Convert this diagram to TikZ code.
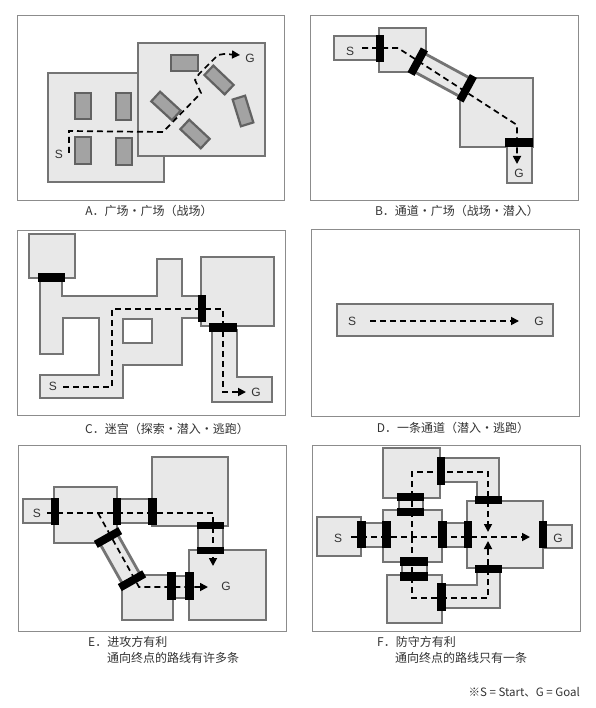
\documentclass[tikz,border=0pt]{standalone}
\usepackage{fontspec}
\setmainfont{Liberation Sans}
\newfontfamily\cjk{Noto Sans CJK SC}
\usetikzlibrary{arrows.meta}
\definecolor{framecol}{HTML}{8C8C8C}
\definecolor{roomfill}{HTML}{E8E8E8}
\definecolor{roomedge}{HTML}{747474}
\definecolor{obstfill}{HTML}{A3A3A3}
\definecolor{obstedge}{HTML}{626262}
\definecolor{txt}{HTML}{333333}
\begin{document}
\begin{tikzpicture}[x=1pt,y=-1pt,
  frame/.style={draw=framecol,line width=0.8pt},
  room/.style={fill=roomfill,draw=roomedge,line width=2.8pt},
  hole/.style={fill=white,draw=roomedge,line width=2.8pt},
  rroom/.style={room,inner sep=0pt,outer sep=0pt},
  door/.style={fill=black,draw=none},
  rdoor/.style={fill=black,draw=none,inner sep=0pt,outer sep=0pt,minimum width=8pt,minimum height=28pt},
  obst/.style={fill=obstfill,draw=obstedge,line width=2.2pt,inner sep=0pt,outer sep=0pt,minimum width=28pt,minimum height=13pt},
  walk/.style={draw=black,line width=1.7pt,dash pattern=on 6pt off 4pt},
  arr/.style={-{Triangle[length=8pt,width=8pt]}},
  lbl/.style={font=\fontsize{12}{14}\selectfont,text=txt,inner sep=0pt},
  capt/.style={font=\cjk\fontsize{12}{14}\selectfont,text=txt,inner sep=0pt}]
\useasboundingbox (0,0) rectangle (595,708);
\fill[white] (0,0) rectangle (595,708);

% ---------- frames ----------
\draw[frame] (17,15) rectangle (284,200);
\draw[frame] (310,15) rectangle (578,200);
\draw[frame] (17,230) rectangle (285,415);
\draw[frame] (311,229) rectangle (579,416);
\draw[frame] (18,445) rectangle (286,631);
\draw[frame] (312,445) rectangle (580,631);

% ---------- A ----------
\draw[room] (48,73) rectangle (164,182);
\draw[obst] (75,93) rectangle (91,119);
\draw[obst] (116,93) rectangle (131,120);
\draw[obst] (75,137) rectangle (91,164);
\draw[obst] (116,138) rectangle (132,165);
\draw[room] (138,43) rectangle (265,156);
\draw[obst] (171,55) rectangle (198,71);
\node[obst,rotate=-43.6] (a1) at (219,80) {};
\node[obst,rotate=-42.6] (a2) at (166,106) {};
\node[obst,rotate=-72.8] (a3) at (243,111) {};
\node[obst,rotate=-43] (a4) at (195,134) {};
\draw[walk,arr] (69,153) -- (69,131) -- (163,132) -- (201,93) -- (195,80) -- (199,74) -- (218,55) -- (224,54) -- (240,55);
\node[lbl] (sA) at (59,154) {S};
\node[lbl] (gA) at (250,58) {G};
\node[capt] (capA) at (149,211) {A．广场・广场（战场）};

% ---------- B ----------
\draw[room] (334,36) rectangle (381,60);
\draw[room] (379,28) rectangle (426,72);
\draw[room] (460,78) rectangle (533,147);
\draw[room] (507,140) rectangle (532,183);
\node[rroom,rotate=-28.5,minimum width=56pt,minimum height=21pt] (bcor) at (442.2,75) {};
\fill[door] (376,35) rectangle (384,62);
\node[rdoor,rotate=-28.5] (bd2) at (417.7,61.7) {};
\node[rdoor,rotate=-28.5] (bd3) at (466.7,88.3) {};
\fill[door] (505,138) rectangle (533,147);
\draw[walk,arr] (362,48) -- (398,48) -- (517,125) -- (517,164);
\node[lbl] (sB) at (350,51) {S};
\node[lbl] (gB) at (519,173) {G};
\node[capt] (capB) at (457,211) {B．通道・广场（战场・潜入）};

% ---------- C ----------
\draw[room] (40,278) -- (40,354) -- (63,354) -- (63,318) -- (99,318) -- (99,375) -- (40,375) -- (40,398) -- (123,398) -- (123,365) -- (182,365) -- (182,318) -- (200,318) -- (200,296) -- (182,296) -- (182,259) -- (157,259) -- (157,296) -- (62,296) -- (62,278) -- cycle;
\draw[hole] (123,319) rectangle (152,343);
\draw[room] (29,234) rectangle (75,278);
\draw[room] (201,257) rectangle (274,326);
\draw[room] (212,330) -- (212,402) -- (272,402) -- (272,377) -- (237,377) -- (237,330) -- cycle;
\fill[door] (38,273) rectangle (65,282);
\fill[door] (198,295) rectangle (206,322);
\fill[door] (209,323) rectangle (237,332);
\draw[walk,arr] (63,387) -- (112,387) -- (112,309) -- (223,309) -- (223,392) -- (246,392);
\node[lbl] (sC) at (53,386) {S};
\node[lbl] (gC) at (256,392) {G};
\node[capt] (capC) at (167,429) {C．迷宫（探索・潜入・逃跑）};

% ---------- D ----------
\draw[room] (337,304) rectangle (553,336);
\draw[walk,arr] (370,321) -- (519,321);
\node[lbl] (sD) at (352,321) {S};
\node[lbl] (gD) at (539,321) {G};
\node[capt] (capD) at (453,428) {D．一条通道（潜入・逃跑）};

% ---------- E ----------
\draw[room] (23,499) rectangle (56,523);
\draw[room] (54,487) rectangle (117,543);
\draw[room] (117,499) rectangle (152,523);
\draw[room] (152,457) rectangle (228,526);
\draw[room] (198,523) rectangle (223,553);
\draw[room] (189,550) rectangle (266,620);
\draw[room] (122,575) rectangle (173,620);
\draw[room] (172,576) rectangle (190,598);
\node[rroom,rotate=-60.6,minimum width=52pt,minimum height=20pt] (ecor) at (120,559) {};
\fill[door] (51,498) rectangle (59,525);
\fill[door] (113,498) rectangle (121,525);
\fill[door] (148,498) rectangle (157,525);
\fill[door] (197,522) rectangle (224,529);
\fill[door] (197,547) rectangle (224,554);
\fill[door] (167,572) rectangle (176,600);
\fill[door] (185,572) rectangle (194,600);
\node[rdoor,rotate=-60.6] (ed1) at (108,537.5) {};
\node[rdoor,rotate=-60.6] (ed2) at (132,580.7) {};
\draw[walk,arr] (47,513) -- (213,513) -- (213,566);
\draw[walk,arr] (98,513) -- (139,587) -- (208,587);
\node[lbl] (sE) at (37,513) {S};
\node[lbl] (gE) at (226,586) {G};
\node[capt,anchor=west] (capE1) at (88,642) {E．进攻方有利};
\node[capt,anchor=west] (capE2) at (107,658) {通向终点的路线有许多条};

% ---------- F ----------
\draw[room] (317,517) rectangle (361,556);
\draw[room] (361,523) rectangle (383,547);
\draw[room] (442,523) rectangle (467,547);
\draw[room] (543,525) rectangle (572,548);
\draw[room] (399,497) rectangle (423,510);
\draw[room] (402,562) rectangle (427,575);
\draw[room] (440,458) -- (499,458) -- (499,501) -- (477,501) -- (477,482) -- (440,482) -- cycle;
\draw[room] (442,585) -- (477,585) -- (477,568) -- (500,568) -- (500,608) -- (442,608) -- cycle;
\draw[room] (383,510) rectangle (442,562);
\draw[room] (467,501) rectangle (543,568);
\draw[room] (383,448) rectangle (440,498);
\draw[room] (387,575) rectangle (442,623);
\fill[door] (357,521) rectangle (366,548);
\fill[door] (382,521) rectangle (391,548);
\fill[door] (438,521) rectangle (447,548);
\fill[door] (464,521) rectangle (472,548);
\fill[door] (539,521) rectangle (547,548);
\fill[door] (397,493) rectangle (424,501);
\fill[door] (397,508) rectangle (424,516);
\fill[door] (400,557) rectangle (428,566);
\fill[door] (400,572) rectangle (428,581);
\fill[door] (437,457) rectangle (445,485);
\fill[door] (475,496) rectangle (502,504);
\fill[door] (475,565) rectangle (502,573);
\fill[door] (437,583) rectangle (446,611);
\draw[walk,arr] (351,537) -- (530,537);
\draw[walk,arr] (412,537) -- (412,472) -- (488,472) -- (488,532);
\draw[walk,arr] (412,537) -- (412,598) -- (488,598) -- (488,541);
\node[lbl] (sF) at (338,538) {S};
\node[lbl] (gF) at (558,538) {G};
\node[capt,anchor=west] (capF1) at (377,642) {F．防守方有利};
\node[capt,anchor=west] (capF2) at (395,658) {通向终点的路线只有一条};

% ---------- note ----------
\node[capt,anchor=east,font=\cjk\fontsize{11.5}{14}\selectfont] (note) at (580,692) {※S = Start、G = Goal};
\end{tikzpicture}
\end{document}
